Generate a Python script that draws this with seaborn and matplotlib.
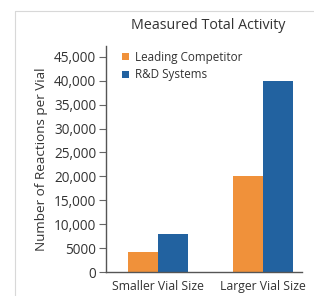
import numpy as np
import matplotlib
matplotlib.use("Agg")
import matplotlib.pyplot as plt
from matplotlib.lines import Line2D
import seaborn as sns
import pandas as pd

# 数据
categories = ["Smaller Vial Size", "Larger Vial Size"]
series_names = ["Leading Competitor", "R&D Systems"]
competitor_vals = [4200, 20000]
rd_vals = [8000, 40000]
y_ticks = [0, 5000, 10000, 15000, 20000, 25000, 30000, 35000, 40000, 45000]
y_tick_labels = ["0", "5000", "10,000", "15,000", "20,000", "25,000",
                 "30,000", "35,000", "40,000", "45,000"]

df = pd.DataFrame({
    "size": categories * 2,
    "series": [series_names[0]] * 2 + [series_names[1]] * 2,
    "value": competitor_vals + rd_vals,
})

sns.set_style("white")
plt.rcParams["font.family"] = ["Open Sans", "DejaVu Sans"]
text_color = "#333333"

fig = plt.figure(figsize=(3.14, 2.96), dpi=100)
ax = fig.add_axes([0.3376, 0.081, 0.6244, 0.764])

sns.barplot(data=df, x="size", y="value", hue="series",
            palette=["#F0913A", "#2262A0"], width=0.57,
            saturation=1, linewidth=0, ax=ax)

ax.set_ylim(0, 47300)
ax.set_xlim(-0.495, 1.371)
ax.set_yticks(y_ticks)
ax.set_yticklabels(y_tick_labels)
ax.tick_params(axis="y", direction="out", length=5, width=0.8, color="#666666",
               labelsize=9.8, labelcolor=text_color, pad=2, left=True)
ax.tick_params(axis="x", length=0, labelsize=8.8, labelcolor=text_color, pad=6)
ax.set_xlabel("")
ax.set_ylabel("Number of Reactions per Vial", fontsize=9.7, color=text_color, labelpad=4)

for s in ["top", "right"]:
    ax.spines[s].set_visible(False)
for s in ["left", "bottom"]:
    ax.spines[s].set_color("#555555")
    ax.spines[s].set_linewidth(1)

ax.legend(loc="upper left", bbox_to_anchor=(0.03, 1.025), frameon=False,
          fontsize=8.4, handlelength=0.6, handleheight=0.6, handletextpad=0.5,
          labelspacing=0.4, labelcolor=text_color)

fig.text(0.663, 0.915, "Measured Total Activity", ha="center", va="center",
         fontsize=10.3, color=text_color)

# 外框线
fig.add_artist(Line2D([15 / 314, 1], [1 - 11 / 296, 1 - 11 / 296],
                      color="#d8d8d8", lw=0.8, transform=fig.transFigure))
fig.add_artist(Line2D([15 / 314, 15 / 314], [0, 1 - 11 / 296],
                      color="#d8d8d8", lw=0.8, transform=fig.transFigure))

fig.savefig("out.png", dpi=100)
